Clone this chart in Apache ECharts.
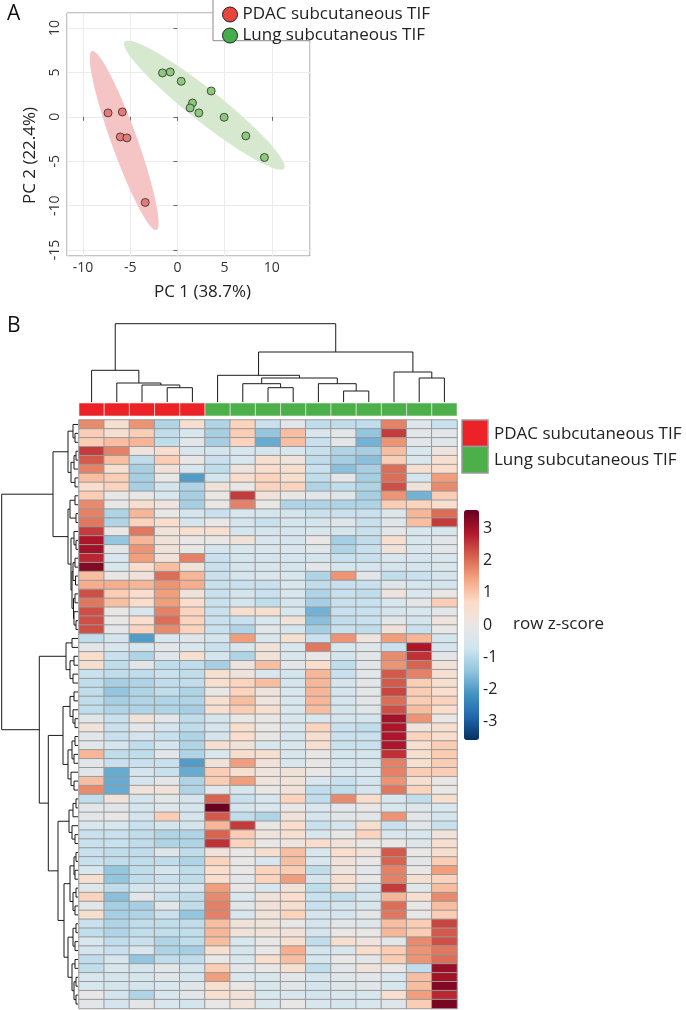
<!DOCTYPE html>
<html>
<head>
<meta charset="utf-8">
<script src="https://cdn.jsdelivr.net/npm/echarts@6/dist/echarts.min.js"></script>
<style>
  html, body { margin: 0; padding: 0; background: #fff; }
  #chart { width: 686px; height: 1010px; }
</style>
</head>
<body>
<div id="chart"></div>
<script>
const FONT = '"Open Sans", "Noto Sans", sans-serif';

// ---- panel A: PCA scores ----
const groupNames = ['PDAC subcutaneous TIF', 'Lung subcutaneous TIF'];
const pdacScores = [[-7.35, 0.44], [-5.84, 0.55], [-6.05, -2.26], [-5.35, -2.37], [-3.41, -9.64]];
const lungScores = [[-1.58, 4.94], [-0.76, 5.05], [0.40, 4.0], [3.58, 2.91], [1.60, 1.56],
  [1.35, 1.0], [2.27, 0.44], [4.95, -0.05], [7.25, -2.15], [9.22, -4.58]];
// confidence ellipses: centre, semi-major vector, semi-minor vector (data units)
const pdacEllipse = [-5.64, -2.67, -3.41, 10.08, 1.29, 0.49];
const lungEllipse = [2.85, 1.31, 8.45, -7.13, 1.05, 1.41];

// ---- panel B: heatmap (rows and columns in dendrogram order) ----
const sampleGroups = ['PDAC', 'PDAC', 'PDAC', 'PDAC', 'PDAC',
  'Lung', 'Lung', 'Lung', 'Lung', 'Lung', 'Lung', 'Lung', 'Lung', 'Lung', 'Lung'];
const zScores = [
  [1.7, 0.5, 1.6, -1.1, 0.5, -1.1, 0.8, -0.8, -0.2, -0.9, -0.9, -0.9, 1.8, -0.3, -0.8],
  [0.9, 0.5, 0.9, -0.9, -0.5, -1.2, 0.9, -1.4, 1.1, -0.5, -0.2, -1.4, 2.5, -0.2, -0.2],
  [0.9, 1.1, 1.2, -0.9, -0.2, -1.2, 0.8, -1.8, 1.1, -0.8, -0.2, -1.7, 1.6, -0.2, -0.3],
  [2.5, 1.8, 0.2, 0.6, -0.5, -0.6, -0.5, -0.6, -0.5, -0.8, -1.1, -1.2, 1.1, -0.5, 0.2],
  [2.2, 1.1, -0.9, 0.9, 0, -0.8, -0.5, 0.5, 0.2, -0.9, -1.2, -1.5, 0.9, -0.5, 0.5],
  [1.8, 0.5, -1.2, 0.3, -0.5, -0.9, 0.2, 0.6, 0.5, -0.8, -1.5, -1.2, 2.0, 0.5, 0.6],
  [1.1, 0.9, -1.2, 0, -2.0, -0.6, 0.6, 0.8, 0.5, -0.9, -0.2, -1.2, 2.0, -0.6, 1.5],
  [0.6, 0.8, -1.2, -0.6, -1.1, 0.3, 0, 0.8, 0.8, -1.1, -0.9, -1.1, 2.3, 0.3, 1.7],
  [0.9, 0, 0, -0.5, -1.2, 0, 2.5, 0.3, 0, -0.2, -0.3, -1.2, 1.6, -1.7, 0.9],
  [1.7, 0, 0.5, 0.2, -1.2, 0, 1.8, 0, -1.1, -1.1, -1.1, -1.1, 0.9, 0.8, 0.5],
  [1.8, -1.1, 1.2, 0, -0.6, -0.8, -0.5, -0.6, -0.6, -0.8, -0.8, -0.8, -0.3, 1.2, 2.0],
  [1.9, -1.1, 0.8, 0.6, -0.6, 0, -0.6, -0.8, -0.6, -0.6, -0.3, -0.8, -0.2, 1.1, 2.5],
  [2.5, 0, 1.9, 0.3, 0.5, 0.5, -0.6, -0.6, -0.6, -0.5, -0.6, -0.8, -0.2, -0.5, -0.5],
  [2.9, -1.4, 1.2, 0.3, 0, 0, 0.3, -0.5, -0.6, 0, -1.2, -0.9, 0.5, -0.5, -0.2],
  [3.0, -0.2, 1.6, 0.3, 0, -0.6, -0.5, -0.5, -0.5, -0.3, -1.1, -0.8, 0.3, -0.5, -0.2],
  [2.7, -0.5, 1.5, 0.3, 1.8, -0.8, -0.6, -0.6, -0.6, -0.6, -0.8, -0.8, -0.5, -0.6, -0.5],
  [3.3, -0.5, 0.6, 1.1, 0.3, -0.8, -0.6, -0.5, -0.6, -0.2, -0.6, -0.6, -0.6, -0.6, -0.5],
  [1.1, 0, 0.3, 2.0, 1.2, -0.8, -0.6, -0.5, -0.5, -1.1, 1.6, -0.2, -0.9, -0.8, -0.6],
  [1.3, 1.3, 1.2, 1.6, 1.3, -0.8, -0.8, -0.8, -0.5, -0.9, -0.8, -0.8, -0.3, -0.6, -0.6],
  [2.3, 0.9, 0.6, 1.5, 0.3, -0.8, -0.6, -0.8, -0.5, -1.1, -0.8, -0.9, 0.2, -0.5, 0],
  [1.9, 1.1, 0.6, 1.5, 0.6, -0.8, -0.6, -0.9, -0.6, -1.2, -0.8, -0.8, -0.5, -0.2, 0.9],
  [2.3, 0, -0.5, 1.8, 0.8, -0.8, 0.5, 0.5, -0.5, -1.7, -0.8, -0.8, -0.6, -0.5, -0.2],
  [2.3, 0, 0.6, 2.0, 0.8, -0.8, -0.8, -0.5, 0.3, -1.5, -0.9, -0.8, -0.2, -0.6, 0.2],
  [2.3, -0.2, 0.8, 1.7, 0.8, -0.8, -1.1, -0.2, -0.6, -1.2, -0.8, -0.9, 0.3, -0.8, 0],
  [-0.9, -0.6, -2.0, -0.5, -0.3, -0.6, 1.5, -0.5, 0.5, -0.8, 1.6, 0.2, 1.5, 1.2, -0.6],
  [-0.2, -0.5, -0.5, -0.2, -0.5, -0.8, -0.5, 0.3, -0.5, 1.9, -0.5, -0.3, -0.8, 2.9, -0.6],
  [0.6, -0.8, -1.1, -0.3, 0.5, -0.6, -1.1, 0.3, -0.5, 0, -0.6, -0.2, 1.7, 2.6, -0.2],
  [0.5, -0.9, -0.2, -0.9, -0.9, -1.2, 0.2, 1.1, -0.2, 0.6, -0.9, -0.2, 1.6, 2.1, 0.3],
  [-0.8, -0.9, -0.9, -0.8, -0.9, 0.5, 0.2, -0.5, -0.6, 1.2, -0.8, -0.2, 2.2, 1.8, 0.5],
  [-0.9, -1.2, -1.1, -0.9, -0.9, 0.5, 0.8, 1.1, -0.6, 1.2, -0.6, -0.2, 2.2, 0.9, 0.5],
  [-0.9, -1.4, -1.1, -0.9, -1.1, 0, 0.8, 0.2, -0.5, 1.2, -0.6, -0.2, 2.4, 0.9, 0.6],
  [-0.9, -1.2, -1.1, -1.1, -1.1, 0.5, 1.1, 0.2, -0.5, 1.2, -0.6, -0.2, 2.0, 0.9, 0.8],
  [-0.9, -1.1, -1.1, -1.1, -1.2, 0.5, 0.9, 0.5, -0.5, 1.1, -0.6, -0.3, 2.3, 1.1, 0.6],
  [-0.3, -0.8, 0.3, -0.2, -0.9, -0.6, 0, 0, -0.5, -0.5, -0.6, -0.6, 3.0, 1.6, 0],
  [0.3, -0.8, -0.2, -0.6, -0.9, -0.6, 0.5, 0, -0.5, 0.8, -0.8, -0.9, 2.9, 0.2, 0.5],
  [-0.2, -0.8, -0.6, -0.8, -1.1, -0.6, 0.6, 0, -0.6, 0.5, -0.8, -0.8, 2.9, 0.8, 0.6],
  [-0.2, -0.6, -0.9, -0.6, -1.1, 0.5, 0.3, -0.5, -0.5, 0.5, -0.8, -0.8, 2.9, 0.5, 0.9],
  [1.2, -0.9, -0.9, -0.2, -1.1, -0.5, 0.5, 0.5, -0.5, 0, -0.6, -0.6, 2.6, 0.5, 0.9],
  [-0.2, -0.8, -0.8, -0.8, -2.0, 0.3, 1.5, 0.3, -0.5, 0, -0.6, -0.6, 1.8, 0.5, 0.9],
  [-0.2, -1.8, -0.6, -0.8, -1.8, 0.9, 0.5, 0.2, 0.3, 0, -0.5, -0.5, 1.8, 0.9, 0.9],
  [1.1, -1.8, -0.6, -0.2, -1.1, 0.9, 1.5, 0.2, 0.3, -0.5, -0.8, -0.6, 1.6, 0.5, 0],
  [1.7, -1.8, 0.3, 0.3, -1.1, -0.2, -0.5, 0, 0.3, -0.9, -0.9, -0.6, 1.9, 0.8, 0],
  [-0.9, 0.3, -0.6, -0.2, -0.6, 2.1, -0.8, -0.5, 0.8, -0.9, 1.7, 0.6, -0.5, -0.9, 0.5],
  [-0.2, -0.3, -0.6, -0.3, -0.6, 3.5, -0.6, -0.5, 0, -0.5, -0.2, 0, -0.5, -0.3, -0.5],
  [-0.2, 0, -0.6, 0.9, -0.6, 2.2, -0.9, -1.1, 0.3, -0.6, -0.2, -0.2, 1.6, -0.2, -0.6],
  [-0.5, -0.5, -0.8, -0.6, -0.6, 1.2, 2.5, 0, 0.6, -0.8, -0.6, 0.5, -0.8, -0.2, -0.8],
  [-0.8, -0.8, -0.9, -1.1, -1.1, 2.1, 0.9, 0.2, 0.5, -0.5, 0, 0.8, -0.5, -0.5, 0.3],
  [-0.8, -0.8, -0.9, -1.1, -1.1, 2.6, 0.8, 0, 0.2, 0.6, 0.3, 0, 0, -0.3, 0.5],
  [-0.8, -0.9, -0.9, -0.3, -0.9, 0.3, 0, 0.5, 1.1, -0.5, 0.6, 0.3, 2.2, 0, 0.5],
  [-0.8, -0.9, -0.9, -0.9, -1.1, 0.8, 0, -0.5, 1.1, -0.5, 0.3, 0, 2.1, -0.2, 0.9],
  [-0.5, -1.4, -0.9, -0.6, -0.9, 0.6, 0, 0.8, 0.9, -0.9, 0.2, -0.2, 1.8, 0, 1.5],
  [0.5, -1.4, -0.9, -0.8, -0.9, 0.6, -0.2, 0.8, 1.5, -0.6, 0.5, 0, 1.8, 0.5, 0.8],
  [-0.3, -0.9, -0.6, -0.6, -0.6, 1.5, 0, -0.5, 0.3, -0.9, 0.3, -0.6, 2.5, -0.3, 1.1],
  [0.8, -1.5, -0.2, -0.8, -0.9, 1.7, -0.5, 0.3, 0.6, -0.8, -0.9, -0.6, 1.2, 0.5, 1.7],
  [-0.2, -1.2, -1.2, -0.2, -0.9, 1.8, -0.2, 0.3, 0.5, -0.8, -0.6, -0.5, 2.0, 0, 1.1],
  [0.5, -1.2, -1.1, -0.8, -1.4, 1.8, -0.5, 0.3, 0.8, -0.6, -0.6, -0.2, 1.9, 0, 0.9],
  [-0.8, -1.1, -0.9, -0.9, -0.9, 1.1, 0.3, 0.2, 0, -0.6, -0.2, -0.3, 1.1, 0.9, 2.4],
  [-0.9, -1.1, -0.9, -0.9, -0.9, 1.2, 0.3, 0.3, 0.3, -0.6, 0, 0, 1.2, 0.9, 2.2],
  [-0.5, -0.9, -0.8, -1.1, -0.9, 1.1, -0.5, 0, 0.5, -0.9, 0.5, 0.2, -0.2, 1.7, 2.3],
  [-0.6, -0.8, -0.5, -1.1, -1.2, 0.5, -0.6, 0, 1.3, -0.6, -0.5, 0.6, 0.9, 1.6, 1.9],
  [-0.9, -0.6, -1.4, -0.9, -0.9, 0, -0.5, 0.6, 1.1, -0.6, 0, -0.2, 0.9, 1.6, 2.0],
  [-0.9, -0.5, -0.6, -0.2, -0.6, 0.9, -0.2, 0, 0.5, -0.9, -0.2, 0.3, 0, -0.9, 3.1],
  [-0.5, -0.6, -0.6, -0.3, -0.6, 1.5, -0.5, -0.5, -0.2, -0.6, -0.3, -0.2, -0.5, 1.1, 3.0],
  [-0.5, -0.6, -0.6, -0.5, -0.3, 0.5, 0, -0.5, -0.2, -0.6, -0.3, -0.2, -0.5, 1.1, 3.3],
  [0, -0.6, -1.1, -0.5, -0.2, 0.5, 0.3, -0.5, -0.5, -0.6, -0.5, -0.5, 0.5, 1.5, 2.7],
  [-0.2, -0.6, -0.2, -0.5, -0.6, 0, 0.3, -0.5, 0, -0.5, -0.6, -0.5, -0.3, 0.9, 3.4]
];
const colorTicks = [-3, -2, -1, 0, 1, 2, 3];

// dendrograms: [mergeHeight, left, right]; leaves are 1-based column / row positions
const colTree = [78.3,
  [31.7, 1, [19, 2, [17, 3, [14.3, 4, 5]]]],
  [50, [26.7, 6, [24, [18.3, 7, [14.3, 8, 9]], [18.3, 10, [11, 11, 12]]]], [30, 13, [24, 14, 15]]]];
const rowTree = [76.3,
  [25,
    [10, [5, 1, [3, 2, 3]], [7, [4, [2, 4, 5], 6], [3, 7, 8]]],
    [10, [8, [3, 9, 10], [2, 11, 12]],
      [7, [4, 13, [2, 14, 15]], [6, [5, [3, 16, 17], [2.5, 18, 19]], [4.5, [3, 20, 21], [4, 22, [2, 23, 24]]]]]]],
  [38.7,
    [12, [6, 25, 26], [8, [4, 27, 28], [5, 29, 30]]],
    [29.7,
      [15, [8, [4, 31, 32], [5, 33, [3, 34, 35]]], [10, [6, [3, 36, 37], [4, 38, 39]], [7, 40, [4, 41, 42]]]],
      [20,
        [9, [5, [2, 43, 44], 45], [6, 46, [3, 47, 48]]],
        [14, [8, [4, [2, 49, 50], [3, 51, 52]], [5, [2, 53, 54], [3, 55, 56]]],
          [10, [5, [2, 57, 58], [3, 59, 60]], [6, [3, 61, 62], [4, [2, 63, 64], [2, 65, 66]]]]]]]]];

const rdbu = ['#053061', '#2166ac', '#4393c3', '#92c5de', '#d1e5f0', '#e9e7e6',
  '#fddbc7', '#f4a582', '#d6604d', '#b2182b', '#67001f'];
const groupColor = { PDAC: '#ec2227', Lung: '#4daf4a' };

function treeSegments(node, out) {
  if (typeof node === 'number') return { p: node, h: 0 };
  const a = treeSegments(node[1], out);
  const b = treeSegments(node[2], out);
  const h = node[0];
  out.push([a.p, a.h, a.p, h], [a.p, h, b.p, h], [b.p, h, b.p, b.h]);
  return { p: (a.p + b.p) / 2, h: h };
}
const colSegs = [];
treeSegments(colTree, colSegs);
const rowSegs = [];
treeSegments(rowTree, rowSegs);

const heatData = [];
zScores.forEach((row, r) => row.forEach((v, c) => heatData.push([c, r, v])));

function ellipseSeries(e, fill) {
  return {
    type: 'custom',
    xAxisIndex: 0, yAxisIndex: 0,
    silent: true,
    z: 1,
    data: [e],
    renderItem: function (params, api) {
      const pts = [];
      for (let i = 0; i < 120; i++) {
        const t = i / 120 * Math.PI * 2;
        pts.push(api.coord([
          e[0] + e[2] * Math.cos(t) + e[4] * Math.sin(t),
          e[1] + e[3] * Math.cos(t) + e[5] * Math.sin(t)
        ]));
      }
      return { type: 'polygon', shape: { points: pts }, style: { fill: fill } };
    }
  };
}

function segRenderer(swap) {
  return function (params, api) {
    const p1 = swap ? api.coord([api.value(1), api.value(0)]) : api.coord([api.value(0), api.value(1)]);
    const p2 = swap ? api.coord([api.value(3), api.value(2)]) : api.coord([api.value(2), api.value(3)]);
    return {
      type: 'line',
      shape: { x1: p1[0], y1: p1[1], x2: p2[0], y2: p2[1] },
      style: { stroke: '#1a1a1a', lineWidth: 1 }
    };
  };
}

const hidden = { show: false };
const chart = echarts.init(document.getElementById('chart'), null, { renderer: 'canvas' });

const option = {
  animation: false,
  backgroundColor: '#fff',
  textStyle: { fontFamily: FONT },
  grid: [
    { left: 67, top: 13, width: 243, height: 243, show: true, borderColor: '#8a8a8a', borderWidth: 1, backgroundColor: '#fff' },
    { left: 79, top: 322, width: 378, height: 80 },
    { left: 79, top: 403, width: 378, height: 13 },
    { left: 79, top: 420, width: 378, height: 588.5 },
    { left: 0, top: 420, width: 78, height: 588.5 },
    { left: 464, top: 510, width: 15, height: 230 }
  ],
  xAxis: [
    {
      gridIndex: 0, type: 'value', min: -11.7, max: 14.05, splitNumber: 5,
      axisLine: hidden,
      axisTick: { show: true, length: 4, lineStyle: { color: '#666' } },
      axisLabel: { fontSize: 14, color: '#333', margin: 5, showMinLabel: false, showMaxLabel: false },
      splitLine: { lineStyle: { color: '#ececec' } },
      name: 'PC 1 (38.7%)', nameLocation: 'middle', nameGap: 28,
      nameTextStyle: { fontSize: 17, color: '#222', padding: [0, 0, 0, 28] }
    },
    { gridIndex: 1, type: 'value', min: 0.5, max: 15.5, show: false },
    { gridIndex: 2, type: 'category', data: sampleGroups.map((g, i) => 'S' + (i + 1)), show: false },
    { gridIndex: 3, type: 'category', data: sampleGroups.map((g, i) => 'S' + (i + 1)), show: false },
    { gridIndex: 4, type: 'value', min: 0, max: 78, inverse: true, show: false },
    { gridIndex: 5, type: 'value', min: 0, max: 1, show: false }
  ],
  yAxis: [
    {
      gridIndex: 0, type: 'value', min: -15.67, max: 11.69, splitNumber: 5,
      axisLine: hidden,
      axisTick: { show: true, length: 4, lineStyle: { color: '#666' } },
      axisLabel: { fontSize: 14, color: '#333', margin: 5, rotate: 90, showMinLabel: false, showMaxLabel: false },
      splitLine: { lineStyle: { color: '#ececec' } },
      name: 'PC 2 (22.4%)', nameLocation: 'middle', nameGap: 28,
      nameTextStyle: { fontSize: 17, color: '#222', padding: [0, 42, 0, 0] }
    },
    { gridIndex: 1, type: 'value', min: 0, max: 80, show: false },
    { gridIndex: 2, type: 'category', data: ['group'], show: false },
    { gridIndex: 3, type: 'category', data: zScores.map((r, i) => 'R' + (i + 1)), inverse: true, show: false },
    { gridIndex: 4, type: 'value', min: 0.5, max: 66.5, inverse: true, show: false },
    {
      gridIndex: 5, type: 'value', min: -3.56, max: 3.56, position: 'right',
      axisLine: hidden, axisTick: hidden, splitLine: hidden,
      axisLabel: { customValues: colorTicks, fontSize: 16, color: '#222', margin: 4 }
    }
  ],
  visualMap: [{
    type: 'continuous', seriesIndex: 6, min: -3.56, max: 3.56,
    calculable: false, hoverLink: false, realtime: false,
    left: 464, top: 510, itemWidth: 15, itemHeight: 230, padding: 0,
    inRange: { color: rdbu },
    textStyle: { fontSize: 0 }
  }],
  legend: {
    orient: 'vertical', left: 217, top: 1, itemWidth: 15, itemHeight: 15, itemGap: 4,
    icon: 'circle', z: 20, selectedMode: false,
    textStyle: { fontSize: 17, color: '#222', fontFamily: FONT },
    data: [
      { name: groupNames[0], itemStyle: { color: '#e8453c', borderColor: '#222', borderWidth: 1 } },
      { name: groupNames[1], itemStyle: { color: '#46ad4b', borderColor: '#222', borderWidth: 1 } }
    ]
  },
  graphic: [
    { type: 'text', left: 7, top: 4, style: { text: 'A', font: '21px ' + FONT, fill: '#111' } },
    { type: 'text', left: 7, top: 316, style: { text: 'B', font: '21px ' + FONT, fill: '#111' } },
    { type: 'rect', z: 15, shape: { x: 213, y: -5, width: 97.5, height: 45.7 }, style: { fill: '#fff' } },
    { type: 'polyline', z: 16, shape: { points: [[213, -5], [213, 40.7], [310.5, 40.7]] }, style: { stroke: '#8a8a8a', lineWidth: 1, fill: null } },
    { type: 'rect', shape: { x: 462, y: 420, width: 26, height: 26.5 }, style: { fill: groupColor.PDAC, stroke: '#9a9a9a', lineWidth: 1.5 } },
    { type: 'rect', shape: { x: 462, y: 446.5, width: 26, height: 26.5 }, style: { fill: groupColor.Lung, stroke: '#9a9a9a', lineWidth: 1.5 } },
    { type: 'text', x: 494, y: 434, style: { text: 'PDAC subcutaneous TIF', font: '17px ' + FONT, fill: '#222', verticalAlign: 'middle' } },
    { type: 'text', x: 494, y: 460.5, style: { text: 'Lung subcutaneous TIF', font: '17px ' + FONT, fill: '#222', verticalAlign: 'middle' } },
    { type: 'text', x: 513, y: 624, style: { text: 'row z-score', font: '17px ' + FONT, fill: '#222', verticalAlign: 'middle' } }
  ],
  series: [
    ellipseSeries(pdacEllipse, '#f5c5c5'),
    ellipseSeries(lungEllipse, '#d6e9ce'),
    {
      name: groupNames[0], type: 'scatter', xAxisIndex: 0, yAxisIndex: 0, z: 3,
      symbolSize: 8, data: pdacScores,
      itemStyle: { color: '#e57b78', borderColor: '#2a2a2a', borderWidth: 0.8, opacity: 1 }
    },
    {
      name: groupNames[1], type: 'scatter', xAxisIndex: 0, yAxisIndex: 0, z: 3,
      symbolSize: 8, data: lungScores,
      itemStyle: { color: '#8cc97d', borderColor: '#2a2a2a', borderWidth: 0.8, opacity: 1 }
    },
    {
      type: 'custom', xAxisIndex: 1, yAxisIndex: 1, silent: true,
      data: colSegs, renderItem: segRenderer(false)
    },
    {
      type: 'custom', xAxisIndex: 2, yAxisIndex: 2, silent: true,
      data: sampleGroups.map((g, i) => [i, 0]),
      renderItem: function (params, api) {
        const p = api.coord([api.value(0), 0]);
        const s = api.size([1, 1]);
        return {
          type: 'rect',
          shape: { x: p[0] - s[0] / 2, y: p[1] - s[1] / 2, width: s[0], height: s[1] },
          style: { fill: groupColor[sampleGroups[params.dataIndex]], stroke: 'rgba(235,235,235,0.6)', lineWidth: 1 }
        };
      }
    },
    {
      type: 'heatmap', xAxisIndex: 3, yAxisIndex: 3, silent: true,
      data: heatData,
      itemStyle: { borderColor: '#999', borderWidth: 1 }
    },
    {
      type: 'custom', xAxisIndex: 4, yAxisIndex: 4, silent: true,
      data: rowSegs, renderItem: segRenderer(true)
    },
    { type: 'scatter', xAxisIndex: 5, yAxisIndex: 5, data: [] }
  ]
};
chart.setOption(option);
</script>
</body>
</html>
